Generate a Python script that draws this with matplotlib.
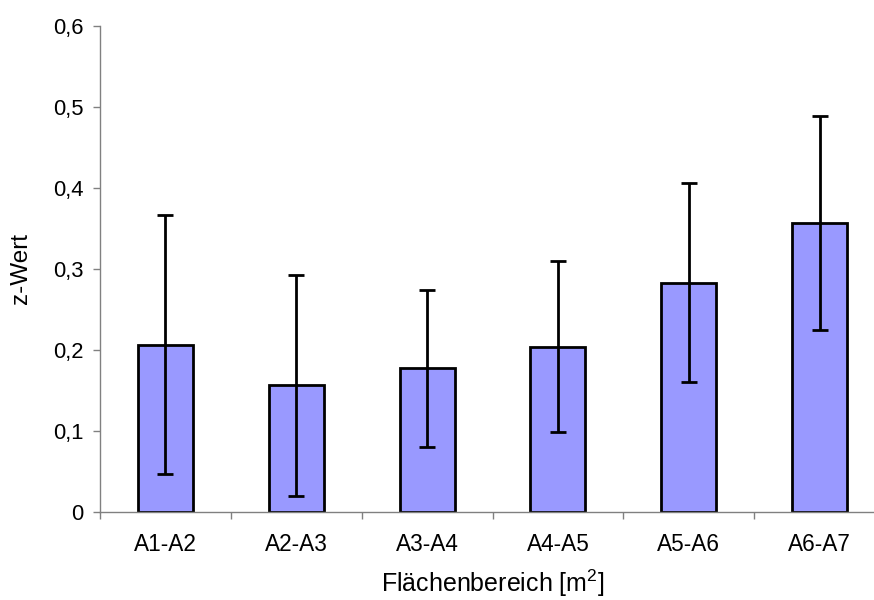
import matplotlib
matplotlib.use("Agg")
import matplotlib.pyplot as plt
import numpy as np

plt.rcParams['font.family'] = ['Liberation Sans', 'DejaVu Sans']
plt.rcParams['mathtext.fontset'] = 'custom'
plt.rcParams['mathtext.rm'] = 'Liberation Sans'

categories = ["A1-A2", "A2-A3", "A3-A4", "A4-A5", "A5-A6", "A6-A7"]
z_values = [0.206, 0.156, 0.177, 0.204, 0.283, 0.357]
z_errors = [0.160, 0.136, 0.097, 0.106, 0.123, 0.132]
y_ticks = [0, 0.1, 0.2, 0.3, 0.4, 0.5, 0.6]
y_tick_labels = ["0", "0,1", "0,2", "0,3", "0,4", "0,5", "0,6"]

W, H = 874, 600
fig = plt.figure(figsize=(W / 100, H / 100), dpi=100)
ax_left, ax_right, ax_top, ax_bottom = 100, 885, 26, 511.7
ax = fig.add_axes([ax_left / W, (H - ax_bottom) / H,
                   (ax_right - ax_left) / W, (ax_bottom - ax_top) / H])

x = np.arange(len(categories))
ax.bar(x, z_values, width=0.42, color="#9999FF", edgecolor="black", linewidth=2,
       yerr=z_errors, error_kw=dict(ecolor="black", elinewidth=2, capsize=5.5, capthick=2),
       zorder=2)

ax.set_xlim(-0.5, len(categories) - 0.5)
ax.set_ylim(0, 0.6)
ax.set_yticks(y_ticks)
ax.set_yticklabels(y_tick_labels)

# category labels centred under bars, ticks at category boundaries
ax.set_xticks(x)
ax.set_xticklabels(categories)
ax.set_xticks(np.arange(len(categories) + 1) - 0.5, minor=True)
ax.tick_params(axis="x", which="major", length=0, pad=15, labelsize=16.3)
ax.tick_params(axis="x", which="minor", length=5, width=1, color="#808080", direction="out")
ax.tick_params(axis="y", length=5, width=1, color="#808080", direction="out", pad=7, labelsize=15.8)

for side in ("top", "right"):
    ax.spines[side].set_visible(False)
for side in ("left", "bottom"):
    ax.spines[side].set_color("#808080")
    ax.spines[side].set_linewidth(1)

# axis titles
fig.text(21 / W, 1 - ((ax_top + ax_bottom) / 2) / H, "z-Wert", rotation=90,
         ha="center", va="center", fontsize=17.5)
fig.text(((ax_left + ax_right) / 2) / W, 8 / H, "Flächenbereich [m$^{2}$]",
         ha="center", va="baseline", fontsize=18)

fig.savefig("out.png", dpi=100)
